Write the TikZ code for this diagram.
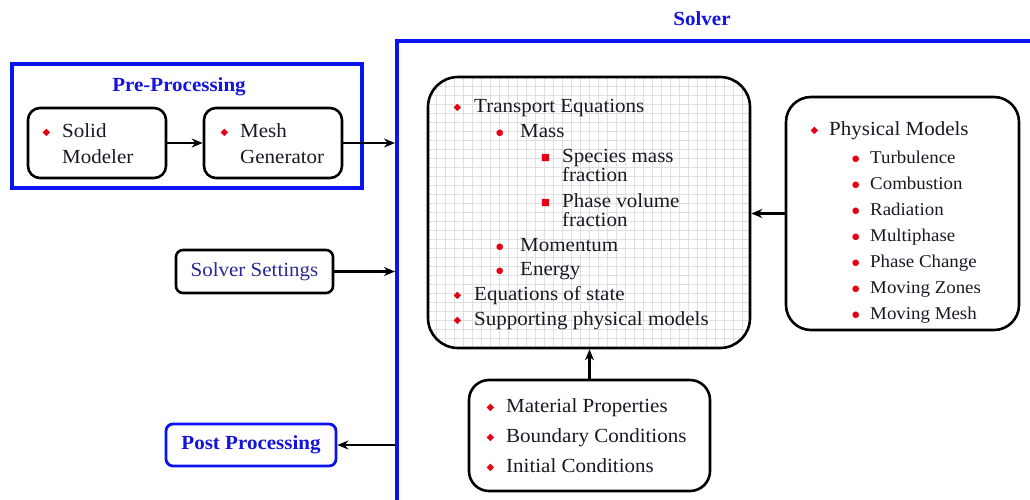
\documentclass[tikz,border=0pt]{standalone}
\usepackage{fontspec}
\setmainfont[FakeStretch=1.05]{Liberation Serif}
\newfontfamily\symfont{DejaVu Sans}
\usetikzlibrary{arrows.meta}

\definecolor{bred}{RGB}{230,0,20}
\definecolor{frameblue}{RGB}{10,20,240}
\definecolor{titleblue}{RGB}{20,20,220}
\definecolor{navy}{RGB}{40,40,150}
\definecolor{ink}{RGB}{25,25,35}

% bullet glyphs
\newcommand\bdia{\raisebox{2pt}{\color{bred}\symfont\fontsize{10}{10}\selectfont ◆}}
\newcommand\bdot{\raisebox{2.5pt}{\color{bred}\symfont\fontsize{8.5}{8.5}\selectfont ●}}
\newcommand\bsqr{\raisebox{2.5pt}{\color{bred}\symfont\fontsize{9.5}{9.5}\selectfont ■}}
% bullet followed by its text, #2 = distance from bullet to text
\newcommand\itm[3]{\makebox[#2pt][l]{#1}#3}

\begin{document}
\begin{tikzpicture}[x=1pt,y=-1pt,
  rbox/.style={draw=black, line width=2.6pt, rounded corners=#1, fill=white},
  rbox/.default=12pt,
  bluebox/.style={draw=frameblue, line width=3.8pt},
  conn/.style={line width=2.3pt, -{Stealth[length=11pt,width=9pt]}},
  item/.style={anchor=west, inner sep=0pt, text height=13pt, text depth=0pt,
    text=ink, font=\fontsize{20}{20}\selectfont},
  subitem/.style={item, font=\fontsize{18}{18}\selectfont},
  title/.style={inner sep=0pt, text=titleblue, font=\bfseries\fontsize{20}{20}\selectfont},
]
\useasboundingbox (0,0) rectangle (1030,499);
\clip (0,0) rectangle (1030,499);

% ---------- Pre-processing group ----------
\node[bluebox, minimum width=350pt, minimum height=124pt] (pre) at (187,126) {};
\node[title] (pretitle) at (179,87) {Pre-Processing};
\node[rbox, minimum width=138pt, minimum height=70pt] (solid) at (97,143) {};
\node[rbox, minimum width=138pt, minimum height=70pt] (mesh) at (273,143) {};
\node[item] (solid1) at (42.5,131) {\itm{\bdia}{19.5}{Solid}};
\node[item] (solid2) at (62,157) {Modeler};
\node[item] (mesh1) at (220.5,131) {\itm{\bdia}{19.5}{Mesh}};
\node[item] (mesh2) at (240,157) {Generator};

% ---------- Solver frame ----------
\node[bluebox, minimum width=680pt, minimum height=500pt, anchor=north west] (solver) at (395,39) {};
\node[title] (solvertitle) at (702,19) {Solver};

% ---------- Settings and post-processing ----------
\node[rbox=7pt, minimum width=157pt, minimum height=43pt, text=navy,
  font=\fontsize{20}{20}\selectfont] (settings) at (254.5,271.5) {Solver Settings};
\node[draw=frameblue, line width=2.8pt, rounded corners=7pt, fill=white,
  minimum width=170pt, minimum height=42pt, text=titleblue,
  font=\bfseries\fontsize{20}{20}\selectfont] (post) at (251,445) {Post Processing};

% ---------- Transport equations ----------
\node[rbox=30pt, minimum width=322pt, minimum height=271pt,
  path picture={\draw[gray!25, line width=0.4pt, step=9pt]
    (path picture bounding box.south west) grid (path picture bounding box.north east);}]
  (transport) at (589,212.5) {};
\node[item] (t1) at (453.5,106) {\itm{\bdia}{20.5}{Transport Equations}};
\node[item] (t2) at (496,131) {\itm{\bdot}{24}{Mass}};
\node[item] (t3) at (541,156) {\itm{\bsqr}{21}{Species mass}};
\node[item] (t3b) at (562,175) {fraction};
\node[item] (t4) at (541,201) {\itm{\bsqr}{21}{Phase volume}};
\node[item] (t4b) at (562,220) {fraction};
\node[item] (t5) at (496,245) {\itm{\bdot}{24}{Momentum}};
\node[item] (t6) at (496,269) {\itm{\bdot}{24}{Energy}};
\node[item] (t7) at (453.5,294) {\itm{\bdia}{20.5}{Equations of state}};
\node[item] (t8) at (453.5,319) {\itm{\bdia}{20.5}{Supporting physical models}};

% ---------- Physical models ----------
\node[rbox=25pt, minimum width=233pt, minimum height=233pt] (physical) at (902.5,213.5) {};
\node[item] (p0) at (810.5,129) {\itm{\bdia}{18.5}{Physical Models}};
\node[subitem] (p1) at (852,157) {\itm{\bdot}{18}{Turbulence}};
\node[subitem] (p2) at (852,183) {\itm{\bdot}{18}{Combustion}};
\node[subitem] (p3) at (852,209) {\itm{\bdot}{18}{Radiation}};
\node[subitem] (p4) at (852,235) {\itm{\bdot}{18}{Multiphase}};
\node[subitem] (p5) at (852,261) {\itm{\bdot}{18}{Phase Change}};
\node[subitem] (p6) at (852,287) {\itm{\bdot}{18}{Moving Zones}};
\node[subitem] (p7) at (852,313) {\itm{\bdot}{18}{Moving Mesh}};

% ---------- Material / boundary / initial ----------
\node[rbox=20pt, minimum width=241pt, minimum height=111pt] (material) at (589.5,435.5) {};
\node[item] (m1) at (486.5,406) {\itm{\bdia}{19.5}{Material Properties}};
\node[item] (m2) at (486.5,436) {\itm{\bdia}{19.5}{Boundary Conditions}};
\node[item] (m3) at (486.5,466) {\itm{\bdia}{19.5}{Initial Conditions}};

% ---------- Connectors ----------
\draw[conn] (solid.east) -- (mesh.west);
\draw[conn] (mesh.east) -- (mesh.east -| solver.west);
\draw[conn] (settings.east) -- (settings.east -| solver.west);
\draw[conn] (post.east -| solver.west) -- (post.east);
\draw[conn] (physical.west) -- (physical.west -| transport.east);
\draw[conn] (material.north) -- (material.north |- transport.south);
\end{tikzpicture}
\end{document}
